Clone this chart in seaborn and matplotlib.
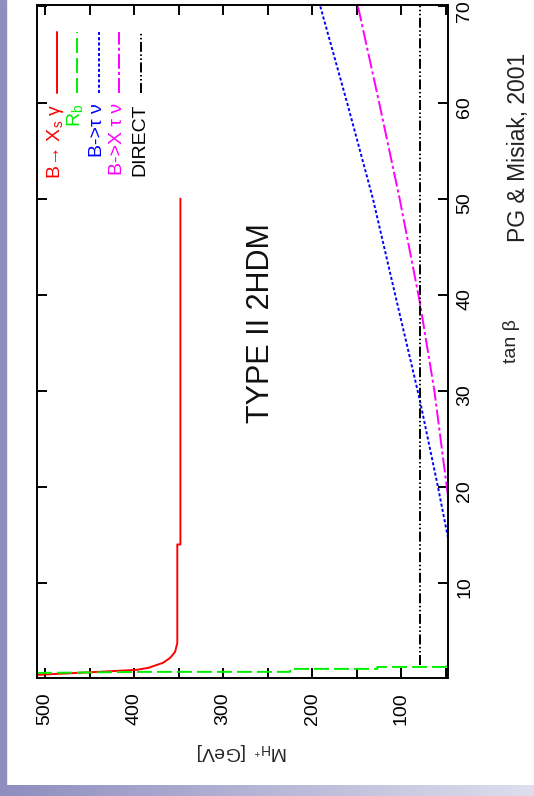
import numpy as np
import matplotlib
matplotlib.use("Agg")
import matplotlib.pyplot as plt
from matplotlib.colors import LinearSegmentedColormap
from matplotlib.patches import Rectangle
import seaborn as sns

# ---- lower bounds on the charged Higgs mass as a function of tan(beta) ----
bsg_tanb = [50, 14, 14, 3.76, 2.82, 2.2, 1.68, 1.16, 0.95, 0.74, 0.53, 0.42]
bsg_mass = [348, 348, 351.5, 351.5, 354, 359.5, 367.5, 384, 397, 440, 486, 509]

rb_tanb = [0.63, 0.74, 0.74, 1.05, 1.05, 1.25, 1.25, 1.46]
rb_mass = [509, 385, 225, 225, 127, 127, 51, 47.7]

btaunu_tanb = [14.7, 20, 29.1, 40, 50, 60, 70]
btaunu_mass = [47.7, 59, 79.5, 107, 132, 161, 191]

bxtaunu_tanb = [19.0, 30, 39.3, 50, 60, 70]
bxtaunu_mass = [47.7, 63, 79.5, 102, 125, 148.7]

direct_tanb = [1.5, 70]
direct_mass = [79.5, 79.5]

mass_ticks = [500, 450, 400, 350, 300, 250, 200, 150, 100, 50]
mass_tick_labels = ["500", "", "400", "", "300", "", "200", "", "100", ""]
tanb_ticks = [10, 20, 30, 40, 50, 60, 70]

legend_labels = [r"B→ X$_\mathregular{s}$ γ", r"R$_\mathregular{b}$",
                 "B->τ ν", "B->X τ ν", "DIRECT"]

# ---- style ----
sns.set_style("white")
plt.rcParams["font.family"] = ["Liberation Sans", "DejaVu Sans"]
plt.rcParams["mathtext.fontset"] = "custom"
plt.rcParams["mathtext.rm"] = "Liberation Sans"
plt.rcParams["mathtext.it"] = "Liberation Sans:italic"
plt.rcParams["lines.scale_dashes"] = False

W, H = 534, 796
fig = plt.figure(figsize=(W / 100, H / 100), dpi=100)
fig.patch.set_facecolor("white")

# plot frame, in pixels from the top-left corner
ax_l, ax_r, ax_t, ax_b = 36.7, 448.0, 5.0, 678.0
ax = fig.add_axes([ax_l / W, 1 - ax_b / H, (ax_r - ax_l) / W, (ax_b - ax_t) / H])
ax.set_facecolor("white")

lw = 1.4
series = [
    (bsg_mass, bsg_tanb, "#ff0000", "-"),
    (rb_mass, rb_tanb, "#00ee00", (0, (10.8, 3.6))),
    (btaunu_mass, btaunu_tanb, "#0000ff", (0, (2.2, 1.6))),
    (bxtaunu_mass, bxtaunu_tanb, "#ff00ff", (0, (10.8, 2.2, 2.2, 2.2))),
    (direct_mass, direct_tanb, "#000000", (0, (7.2, 1.8, 1.1, 1.8, 1.1, 1.8))),
]
for mass, tanb, col, ls in series:
    sns.lineplot(x=mass, y=tanb, sort=False, estimator=None, color=col,
                 lw=lw, linestyle=ls, ax=ax)

ax.set_xlim(509.3, 47.7)
ax.set_ylim(0.1, 70.15)

ax.set_xticks(mass_ticks)
ax.set_xticklabels(mass_tick_labels)
ax.set_yticks(tanb_ticks)
ax.set_yticklabels([str(t) for t in tanb_ticks])

for s in ax.spines.values():
    s.set_visible(True)
    s.set_color("black")
    s.set_linewidth(1.4)

ax.tick_params(axis="both", which="major", direction="in", length=7.5,
               width=1.4, color="black", top=True, right=True, bottom=True,
               left=True, labelsize=14, labelcolor="black")
ax.tick_params(axis="x", labelrotation=90, pad=10)
ax.tick_params(axis="y", labelleft=False, labelright=True, labelrotation=90, pad=6)

ax.set_xlabel(r"M$_{\mathregular{H^+}}$ [GeV]", fontsize=14, rotation=180, labelpad=12)
ax.yaxis.set_label_position("right")
ax.set_ylabel("tan β", fontsize=14, rotation=90, labelpad=21)

# model name inside the frame
ax.text(0.545, 0.527, "TYPE II 2HDM", transform=ax.transAxes, rotation=90,
        ha="center", va="center", fontsize=22, color="#111111")

# key: sample lines above right-aligned labels, one column per curve
key_x = [0.049, 0.098, 0.151, 0.200, 0.254]
for (mass, tanb, col, ls), kx, lab in zip(series, key_x, legend_labels):
    ax.plot([kx, kx], [0.869, 0.960], transform=ax.transAxes, color=col,
            lw=lw, linestyle=ls)
    ax.text(kx - 0.004, 0.854, lab, transform=ax.transAxes, rotation=90,
            ha="center", va="top", fontsize=14, color=col)

# credit line
fig.text(518 / W, 1 - 147 / H, "PG & Misiak, 2001", rotation=90,
         ha="center", va="center", fontsize=16.5, color="#222222")

# slide decoration: left band and bottom gradient bar
band = "#8e8ebf"
fig.patches.append(Rectangle((0, 11 / H), 6 / W, 1 - 11 / H, transform=fig.transFigure,
                             color=band, zorder=0))
gax = fig.add_axes([0, 0, 1, 11 / H])
grad_cmap = LinearSegmentedColormap.from_list("bar", [band, "#dedeee"])
gax.imshow(np.linspace(0, 1, 256)[None, :], aspect="auto", cmap=grad_cmap,
           extent=[0, 1, 0, 1])
gax.set_axis_off()

fig.savefig("out.png", dpi=100, facecolor="white")
